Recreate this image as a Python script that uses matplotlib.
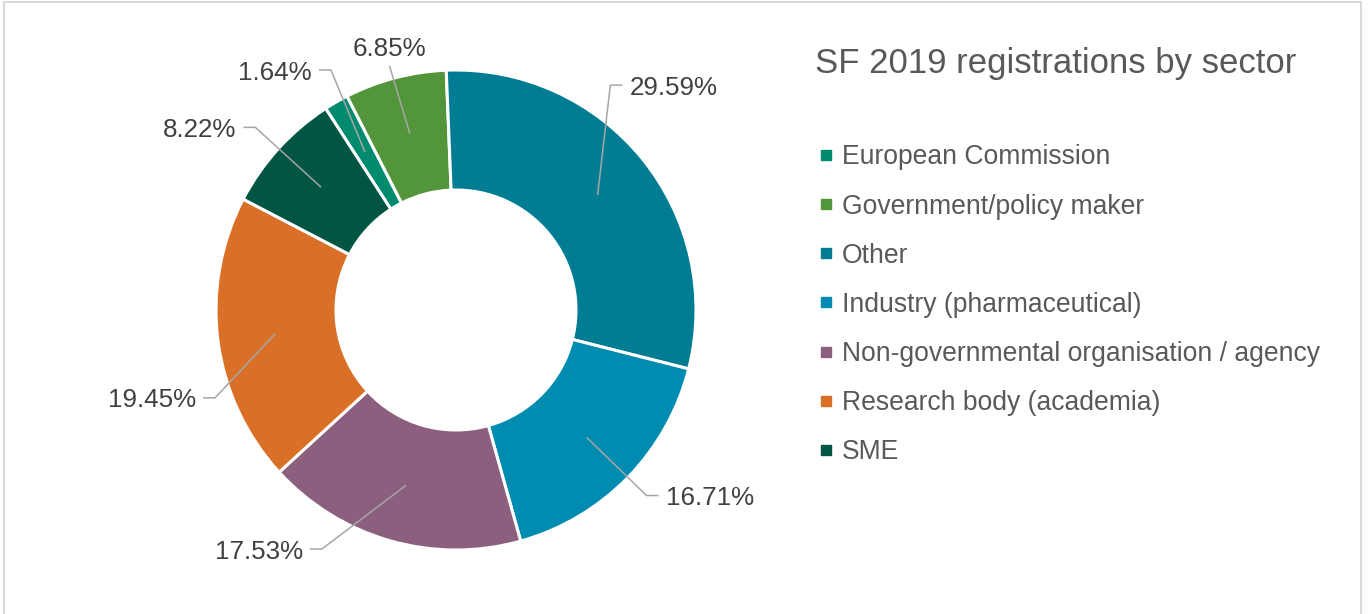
import numpy as np
import matplotlib
matplotlib.use("Agg")
import matplotlib.pyplot as plt
from matplotlib.lines import Line2D
from matplotlib.patches import Rectangle

plt.rcParams['font.family'] = ['Liberation Sans', 'DejaVu Sans']

# ---- data ----
categories = ["European Commission", "Government/policy maker", "Other",
              "Industry (pharmaceutical)", "Non-governmental organisation / agency",
              "Research body (academia)", "SME"]
shares = [1.64, 6.85, 29.59, 16.71, 17.53, 19.45, 8.22]
colors = ["#008A6E", "#53953A", "#007D92", "#008BB0", "#8B5F7D", "#DA7028", "#005543"]
title = "SF 2019 registrations by sector"

# ---- label layout (elbow point in units of radius, side of horizontal tail) ----
label_elbow = [(-0.521, 1.000), (-0.277, 1.017), (0.643, 0.937), (0.794, -0.773),
               (-0.559, -0.996), (-1.004, -0.366), (-0.836, 0.761)]
label_side = [-1, 0, 1, 1, -1, -1, -1]

W, H = 1369, 614
fig = plt.figure(figsize=(W / 100, H / 100), dpi=100)

cx, cy, R = 456, 310, 238
half = 300
ax = fig.add_axes([(cx - half) / W, (H - cy - half) / H, 2 * half / W, 2 * half / H])
lim = half / R
ax.set_xlim(-lim, lim)
ax.set_ylim(-lim, lim)
ax.set_aspect('equal')
ax.axis('off')

wedges, _ = ax.pie(shares, colors=colors, startangle=122.9, counterclock=False,
                   radius=1.0, wedgeprops=dict(width=0.5, edgecolor='white', linewidth=2.2))

line_col = "#A6A6A6"
txt_col = "#404040"
lab_fs = 18.7
seg, gap = 0.05, 0.03
for w, val, (ex, ey), side in zip(wedges, shares, label_elbow, label_side):
    mid = np.deg2rad((w.theta1 + w.theta2) / 2)
    sx, sy = 0.76 * np.cos(mid), 0.76 * np.sin(mid)
    if side == 0:
        ax.plot([sx, ex], [sy, ey], color=line_col, lw=1.1, clip_on=False, solid_capstyle='butt')
        ax.text(ex, ey + 0.08, f"{val:.2f}%", ha='center', va='center_baseline', fontsize=lab_fs,
                color=txt_col, clip_on=False)
    else:
        tx = ex + side * seg
        ax.plot([sx, ex, tx], [sy, ey, ey], color=line_col, lw=1.1, clip_on=False,
                solid_capstyle='butt')
        ax.text(ex + side * (seg + gap), ey, f"{val:.2f}%", ha='left' if side > 0 else 'right',
                va='center_baseline', fontsize=lab_fs, color=txt_col, clip_on=False)

fig.text(815 / W, 1 - 73 / H, title, fontsize=25, color="#595959", ha='left', va='baseline')

handles = [Line2D([0], [0], marker='s', linestyle='none', markersize=7,
                  markerfacecolor=c, markeredgecolor=c) for c in colors]
fig.legend(handles, categories, loc='upper left', bbox_to_anchor=(818 / W, 1 - 144.5 / H),
           frameon=False, fontsize=19.1, labelcolor="#595959", handlelength=0.6,
           handletextpad=0.3, labelspacing=0.87, borderpad=0, borderaxespad=0)

fig.patches.append(Rectangle((4 / W, -0.02), (1361 - 4) / W, 1.02 - 2.5 / H,
                             transform=fig.transFigure, fill=False,
                             edgecolor="#D9D9D9", linewidth=1.5))

fig.savefig("out.png", dpi=100)
